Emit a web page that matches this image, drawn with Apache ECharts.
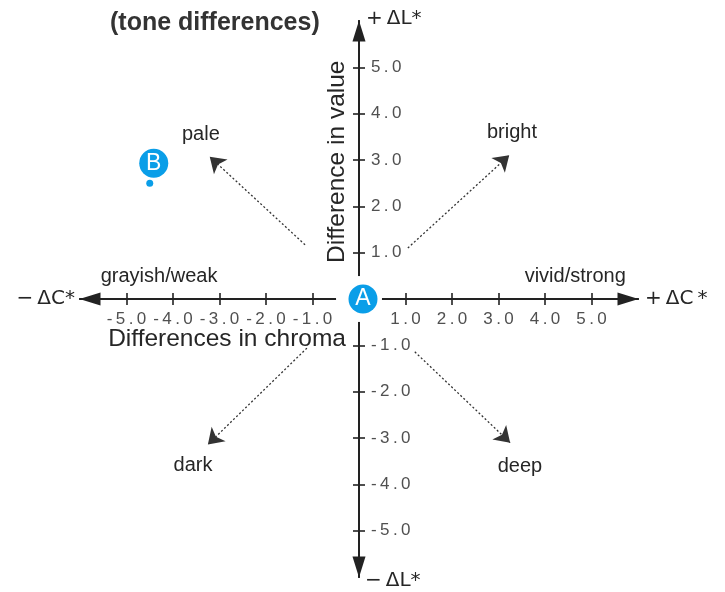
<!DOCTYPE html>
<html>
<head>
<meta charset="utf-8">
<script src="https://cdn.jsdelivr.net/npm/echarts@6/dist/echarts.min.js"></script>
<style>
  html, body { margin: 0; padding: 0; background: #ffffff; }
  #chart { width: 725px; height: 592px; }
</style>
</head>
<body>
<div id="chart"></div>
<script>
// Tone-difference diagram: chroma difference (ΔC*) across, value difference (ΔL*) up/down.
const tickValues = [-5, -4, -3, -2, -1, 1, 2, 3, 4, 5];

// Tone directions, with the dotted arrows that point towards them
const toneNames = ['pale', 'bright', 'dark', 'deep'];
const toneLabelX = [-3.40, 3.29, -3.57, 3.46];
const toneLabelY = [3.56, 3.59, -3.59, -3.61];
const arrowFromX = [-1.16, 1.05, -1.12, 1.20];
const arrowFromY = [1.17, 1.10, -1.06, -1.14];
const arrowToX = [-3.21, 3.23, -3.25, 3.25];
const arrowToY = [3.07, 3.10, -3.14, -3.10];

// Labels along the chroma axis
const sideNames = ['grayish/weak', 'vivid/strong'];
const sideLabelX = [-4.30, 4.65];
const sideLabelY = [0.48, 0.48];

// Sample points: A is the reference, B the compared colour
const pointNames = ['A', 'B'];
const pointX = [0, -4.5];
const pointY = [0, 2.5];

const FONT = '"Liberation Sans", Arial, Helvetica, sans-serif';
const WIDE = '"DejaVu Sans", sans-serif';
const INK = '#262626';
const AXIS = '#222222';
const BLUE = '#0a9ee8';
const badgeOffset = { A: [4, 0], B: [4, -20] };

// plot area; the axes cross in its middle
const GRID = { left: 80, width: 558, top: 21, height: 556 };
const X_SHIFT = -GRID.height / 2;
const Y_SHIFT = -GRID.width / 2;

const spaced = v => v.toFixed(1).split('').join('\u2009');

const tickLine = { show: true, length: 6, customValues: tickValues, lineStyle: { color: AXIS, width: 1.6 } };
const arrowLine = (symbols, offsets) => ({
  show: true, onZero: false,
  symbol: symbols, symbolSize: [13, 21], symbolOffset: offsets,
  lineStyle: { color: AXIS, width: 2 }
});
const tickText = { customValues: tickValues, formatter: spaced, fontFamily: FONT, fontSize: 17, color: '#505050' };
const endName = extra => Object.assign({ fontFamily: WIDE, fontSize: 20, color: INK }, extra || {});

const chart = echarts.init(document.getElementById('chart'), null, { renderer: 'canvas' });

chart.setOption({
  backgroundColor: '#ffffff',
  animation: false,
  title: {
    text: '(tone differences)',
    left: 105, top: 6,
    textStyle: { fontFamily: FONT, fontSize: 25, fontWeight: 'bold', color: '#333' }
  },
  grid: Object.assign({ containLabel: false, outerBoundsMode: 'none' }, GRID),
  xAxis: [
    {
      type: 'value', min: -6, max: 6, interval: 1, position: 'bottom', offset: X_SHIFT,
      splitLine: { show: false },
      axisLine: arrowLine(['triangle', 'triangle'], [10, -10]),
      axisTick: tickLine,
      axisLabel: Object.assign({ margin: 12 }, tickText),
      name: '+\u2009\u0394C\u2009*', nameLocation: 'end', nameGap: 7,
      nameTextStyle: endName()
    },
    {
      type: 'value', min: -6, max: 6, interval: 1, position: 'top', offset: X_SHIFT,
      splitLine: { show: false },
      axisLine: arrowLine(['none', 'none'], [0, 0]),
      axisTick: tickLine,
      axisLabel: { show: false },
      name: '\u2212\u2009\u0394C*', nameLocation: 'start', nameGap: 5,
      nameTextStyle: endName()
    }
  ],
  yAxis: [
    {
      type: 'value', min: -6, max: 6, interval: 1, position: 'left', offset: Y_SHIFT,
      splitLine: { show: false },
      axisLine: arrowLine(['triangle', 'triangle'], [10, -10]),
      axisTick: tickLine,
      axisLabel: { show: false },
      name: '+\u2009\u0394L*', nameLocation: 'end', nameGap: 2,
      nameTextStyle: endName({ align: 'left', verticalAlign: 'middle', padding: [0, 0, 0, 7] })
    },
    {
      type: 'value', min: -6, max: 6, interval: 1, position: 'right', offset: Y_SHIFT,
      splitLine: { show: false },
      axisLine: arrowLine(['none', 'none'], [0, 0]),
      axisTick: tickLine,
      axisLabel: Object.assign({ margin: 12 }, tickText),
      name: '\u2212\u2009\u0394L*', nameLocation: 'start', nameGap: 4,
      nameTextStyle: endName({ align: 'left', verticalAlign: 'middle', padding: [0, 0, 0, 6] })
    }
  ],
  graphic: [
    {
      type: 'text', x: 346, y: 339,
      style: { text: 'Differences in chroma', fontFamily: FONT, fontSize: 24.5, fill: INK, align: 'right', verticalAlign: 'middle' }
    },
    {
      type: 'text', x: 337, y: 263, rotation: Math.PI / 2,
      style: { text: 'Difference in value', fontFamily: FONT, fontSize: 24.5, fill: INK, align: 'left', verticalAlign: 'middle' }
    }
  ],
  series: [
    {
      // dotted direction arrows
      type: 'scatter', data: [], silent: true,
      markLine: {
        silent: true, animation: false,
        symbol: ['none', 'arrow'], symbolSize: 15,
        label: { show: false },
        lineStyle: { color: '#333', width: 1.3, type: [2, 2.2] },
        data: toneNames.map((n, i) => [
          { coord: [arrowFromX[i], arrowFromY[i]] },
          { coord: [arrowToX[i], arrowToY[i]] }
        ])
      }
    },
    {
      // direction names
      type: 'scatter', silent: true, symbolSize: 1,
      itemStyle: { color: 'rgba(0,0,0,0)', opacity: 1 },
      label: { show: true, position: 'inside', formatter: '{b}', fontFamily: FONT, fontSize: 20, color: INK },
      data: toneNames.map((n, i) => ({ name: n, value: [toneLabelX[i], toneLabelY[i]] }))
        .concat(sideNames.map((n, i) => ({ name: n, value: [sideLabelX[i], sideLabelY[i]] })))
    },
    {
      // white gap around the origin badge
      type: 'scatter', silent: true, symbolSize: 46, z: 3,
      itemStyle: { color: '#ffffff', opacity: 1 },
      data: [[pointX[0], pointY[0]]]
    },
    {
      // point markers
      type: 'scatter', silent: true, symbolSize: 7, z: 4,
      itemStyle: { color: BLUE, opacity: 1 },
      data: pointNames.map((n, i) => [pointX[i], pointY[i]])
    },
    {
      // lettered badges
      type: 'scatter', silent: true, symbolSize: 29, z: 5,
      itemStyle: { color: BLUE, opacity: 1 },
      label: { show: true, position: 'inside', formatter: '{b}', fontFamily: FONT, fontSize: 23, color: '#ffffff' },
      data: pointNames.map((n, i) => ({
        name: n, value: [pointX[i], pointY[i]],
        symbolOffset: badgeOffset[n]
      }))
    }
  ]
});
</script>
</body>
</html>
